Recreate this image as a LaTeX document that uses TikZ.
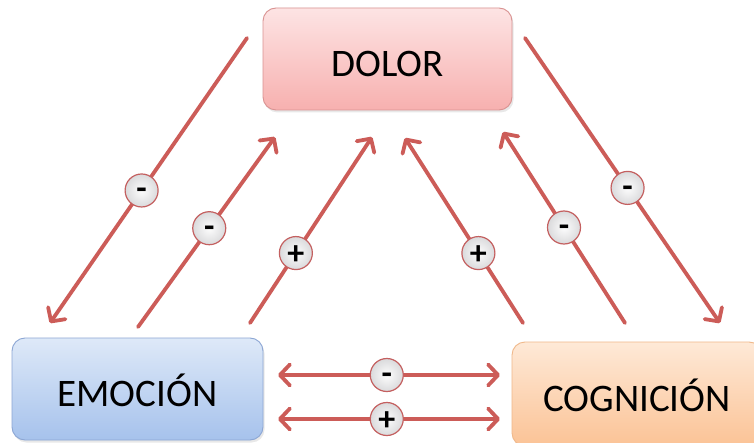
\documentclass[tikz,border=0pt]{standalone}
\usepackage{fontspec}
\setmainfont{Carlito}
\usetikzlibrary{arrows.meta,shadows}

\definecolor{linecol}{RGB}{204,92,88}
\definecolor{pinktop}{RGB}{253,228,228}
\definecolor{pinkbot}{RGB}{247,176,175}
\definecolor{pinkrim}{RGB}{217,146,145}
\definecolor{bluetop}{RGB}{222,233,248}
\definecolor{bluebot}{RGB}{166,194,236}
\definecolor{bluerim}{RGB}{140,166,212}
\definecolor{orgtop}{RGB}{254,233,215}
\definecolor{orgbot}{RGB}{251,195,150}
\definecolor{orgrim}{RGB}{240,184,138}
\definecolor{signfill}{RGB}{228,228,230}
\definecolor{signrim}{RGB}{196,96,96}

\tikzset{
  box/.style={rectangle, rounded corners=13pt, line width=0.9pt,
    font=\fontsize{39}{40}\selectfont, text height=35pt, text depth=0pt,
    drop shadow={opacity=0.18, shadow xshift=1.5pt, shadow yshift=-2.5pt}},
  link/.style={draw=linecol, line width=3.8pt, line cap=round,
    -{Straight Barb[length=10pt,width=21pt,round]}},
  twoway/.style={link, {Straight Barb[length=10pt,width=21pt,round]}-{Straight Barb[length=10pt,width=21pt,round]}},
  sign/.style={circle, minimum size=33pt, inner sep=0pt, draw=signrim,
    line width=1.2pt, inner color=white!92!signfill, outer color=signfill!90!gray,
    font=\fontsize{34}{34}\bfseries\selectfont, text height=23pt, text depth=0pt},
  minus/.style={sign, text height=18.5pt}
}

\begin{document}
\begin{tikzpicture}[x=1pt, y=-1pt]
  \useasboundingbox (0,0) rectangle (754,443);
  \clip (0,0) rectangle (754,443);
  \fill[white] (0,0) rectangle (754,443);

  % the three boxes
  \node[box, draw=pinkrim, top color=pinktop, bottom color=pinkbot,
        minimum width=249pt, minimum height=102pt] (dolor) at (387.5,59) {DOLOR};
  \node[box, draw=bluerim, top color=bluetop, bottom color=bluebot,
        minimum width=251pt, minimum height=102pt] (emocion) at (137.5,389) {EMOCIÓN};
  \node[box, draw=orgrim, top color=orgtop, bottom color=orgbot,
        minimum width=250pt, minimum height=104pt] (cognicion) at (637,394) {COGNICIÓN};

  % arrow end points
  \coordinate (d2e)  at (247,38);  \coordinate (d2eT) at (50,323);
  \coordinate (e2dA) at (138,327); \coordinate (e2dAT) at (275,137);
  \coordinate (e2dB) at (250,323); \coordinate (e2dBT) at (372,137);
  \coordinate (c2dB) at (523,323); \coordinate (c2dBT) at (405,138);
  \coordinate (c2dA) at (625,323); \coordinate (c2dAT) at (503,132);
  \coordinate (d2c)  at (525,38);  \coordinate (d2cT) at (720,323);
  \coordinate (hL1) at (278,375);  \coordinate (hR1) at (500,375);
  \coordinate (hL2) at (278,419);  \coordinate (hR2) at (500,419);

  % influences between dolor, emocion and cognicion
  \draw[link] (d2e)  -- node[minus, pos=0.535] (s1) {-} (d2eT);
  \draw[link] (e2dA) -- node[minus, pos=0.52]  (s2) {-} (e2dAT);
  \draw[link] (e2dB) -- node[sign,  pos=0.376] (s3) {+} (e2dBT);
  \draw[link] (c2dB) -- node[sign,  pos=0.378] (s4) {+} (c2dBT);
  \draw[link] (c2dA) -- node[minus, pos=0.50]  (s5) {-} (c2dAT);
  \draw[link] (d2c)  -- node[minus, pos=0.526] (s6) {-} (d2cT);

  % mutual links between emocion and cognicion
  \draw[twoway] (hL1) -- node[minus, pos=0.49] (s7) {-} (hR1);
  \draw[twoway] (hL2) -- node[sign,  pos=0.49] (s8) {+} (hR2);
\end{tikzpicture}
\end{document}
